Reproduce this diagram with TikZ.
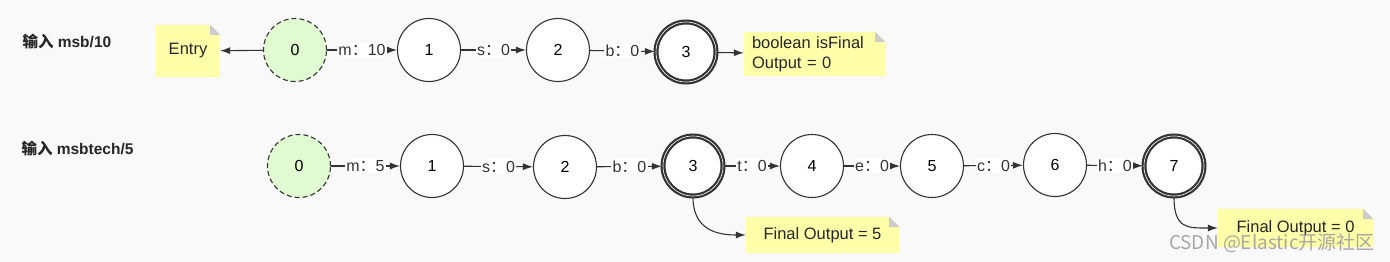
\documentclass[tikz,border=0pt]{standalone}
\usepackage{fontspec}
\setmainfont{Liberation Sans}
\newfontfamily\cjk{Noto Sans CJK SC}
\usetikzlibrary{arrows.meta,backgrounds}
\definecolor{bgc}{HTML}{F9F9F9}
\definecolor{lc}{HTML}{333333}
\definecolor{greenf}{HTML}{E0FBD2}
\definecolor{notef}{HTML}{FFFFAA}
\definecolor{earc}{HTML}{CCCCCC}
\tikzset{
  state/.style={circle, draw=lc, line width=1.1pt, minimum size=63pt, inner sep=0pt, fill=white, font=\fontsize{16}{18}\selectfont},
  startstate/.style={state, fill=greenf, dash pattern=on 5pt off 3pt},
  finalstate/.style={state, line width=2.2pt, double=white, double distance=0.6pt, minimum size=60pt},
  conn/.style={draw=lc, line width=1.1pt, -{Latex[length=10pt,width=7pt]}},
  elabel/.style={fill=white, inner sep=1.5pt, text=lc, font=\fontsize{16}{18}\selectfont},
  notebox/.style={inner sep=0pt, text=black!85, font=\fontsize{16.5}{20}\selectfont},
  titlelabel/.style={anchor=west, text=black!85, font=\bfseries\fontsize{15.5}{18}\selectfont},
}
\newcommand\mynotebg[1]{%
  \fill[notef] (#1.south west) -- (#1.south east) -- ([yshift=-10pt]#1.north east)
    -- ([xshift=-10pt]#1.north east) -- (#1.north west) -- cycle;
  \fill[earc] ([xshift=-10pt]#1.north east) -- ([xshift=-10pt,yshift=-10pt]#1.north east)
    -- ([yshift=-10pt]#1.north east) -- cycle;
}
\newcommand\colonx{{\cjk ：}}
\begin{document}
\begin{tikzpicture}[x=1pt,y=-1pt]
\useasboundingbox (0,0) rectangle (1390,262);

% titles
\node[titlelabel] (t1) at (19,42) {{\cjk\bfseries 输入} msb/10};
\node[titlelabel] (t2) at (18,149) {{\cjk\bfseries 输入} msbtech/5};

% row 1
\node[notebox, minimum width=64pt, minimum height=52pt] (entry) at (188,51) {Entry};
\node[startstate] (a0) at (295,50) {0};
\node[state] (a1) at (429,50) {1};
\node[state] (a2) at (558,50) {2};
\node[finalstate] (a3) at (686,52) {3};
\node[notebox, minimum width=141pt, minimum height=44pt, text width=125pt, inner xsep=8pt, align=left] (nb) at (814.5,54) {boolean isFinal\\Output = 0};

\draw[conn] (a0) -- (entry);
\draw[conn] (a0) -- node[elabel] {m\colonx10} (a1);
\draw[conn] (a1) -- node[elabel] {s\colonx0} (a2);
\draw[conn] (a2) -- node[elabel] {b\colonx0} (a3);
\draw[conn] (a3) -- (nb);

% row 2
\node[startstate] (b0) at (299,166) {0};
\node[state] (b1) at (432,166) {1};
\node[state] (b2) at (565,167) {2};
\node[finalstate] (b3) at (693,166) {3};
\node[state] (b4) at (812,166) {4};
\node[state] (b5) at (932,166) {5};
\node[state] (b6) at (1055,165) {6};
\node[finalstate] (b7) at (1174,166) {7};
\node[notebox, minimum width=153pt, minimum height=36pt] (f5) at (822.5,235) {Final Output = 5};
\node[notebox, minimum width=155pt, minimum height=38pt] (f0) at (1295.5,228) {Final Output = 0};

\draw[conn] (b0) -- node[elabel] {m\colonx5} (b1);
\draw[conn] (b1) -- node[elabel] {s\colonx0} (b2);
\draw[conn] (b2) -- node[elabel] {b\colonx0} (b3);
\draw[conn] (b3) -- node[elabel] {t\colonx0} (b4);
\draw[conn] (b4) -- node[elabel] {e\colonx0} (b5);
\draw[conn] (b5) -- node[elabel] {c\colonx0} (b6);
\draw[conn] (b6) -- node[elabel] {h\colonx0} (b7);
\draw[conn] (b3.south) .. controls +(0,32) and +(-30,0) .. (f5.west);
\draw[conn] (b7.south) .. controls +(0,32) and +(-30,0) .. (f0.west);

\begin{pgfonlayer}{background}
\fill[bgc] (0,0) rectangle (1390,262);
\mynotebg{entry}
\mynotebg{nb}
\mynotebg{f5}
\mynotebg{f0}
\end{pgfonlayer}

% watermark
\node[anchor=east, inner sep=0pt, text=black!40, opacity=0.85, font=\cjk\fontsize{19}{21}\selectfont] (wm) at (1375,243) {CSDN @Elastic开源社区};
\end{tikzpicture}
\end{document}
